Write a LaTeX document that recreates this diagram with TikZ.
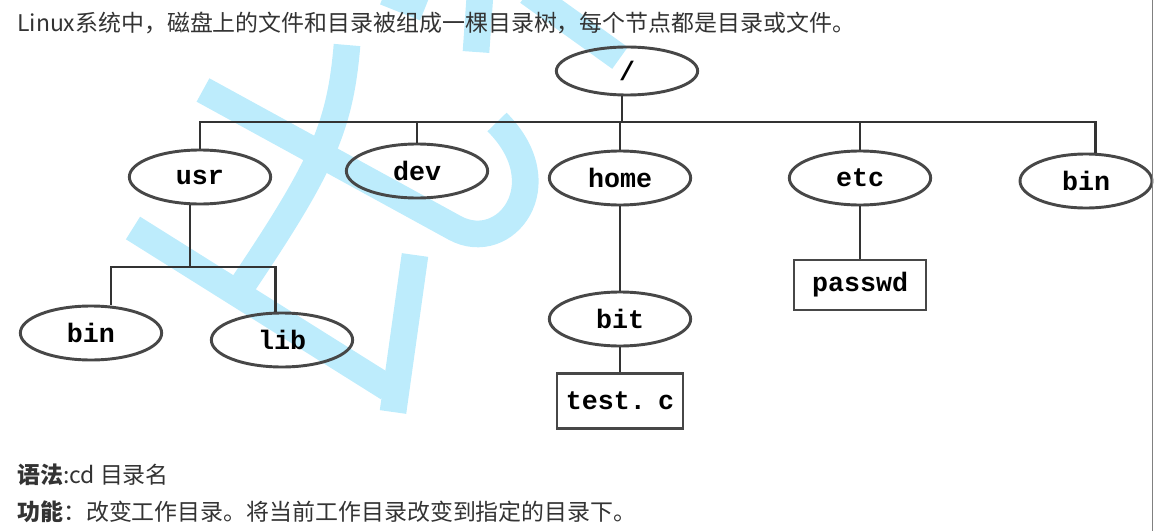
\documentclass[tikz,border=0pt]{standalone}
\usepackage{fontspec}
\newfontfamily\cjk{Noto Sans CJK SC}
\newfontfamily\treefont{Liberation Mono}
\usetikzlibrary{shapes.geometric}
\definecolor{wmblue}{RGB}{189,236,252}
\definecolor{ink}{RGB}{51,51,51}

\begin{document}
\begin{tikzpicture}[x=0.75pt, y=-0.75pt]
  \tikzset{dirnode/.style = {ellipse, draw=black!72, line width=2.2pt, minimum width=106pt, minimum height=40.5pt, inner sep=0pt, font=\treefont\bfseries\fontsize{20}{24}\selectfont}}
  \tikzset{filenode/.style = {rectangle, draw=black!72, line width=2.2pt, inner sep=0pt, font=\treefont\bfseries\fontsize{20}{24}\selectfont}}
  \tikzset{bar/.style = {draw=black!80, line width=2pt}}
  \tikzset{wm/.style = {draw=wmblue, line width=20pt}}
  \tikzset{txt/.style = {anchor=base west, inner sep=0pt, text=ink, font=\cjk\fontsize{17.2}{20}\selectfont}}

  \useasboundingbox (0,0) rectangle (1155,531);

  % watermark
  \draw[wm] (203,90) -- (455,228) .. controls (505,255) and (560,185) .. (497,122);
  \draw[wm] (347,45) .. controls (340,130) and (320,170) .. (238,292);
  \draw[wm] (415,255) -- (393,412);
  \draw[wm] (133,228) -- (388,388);
  \draw[wm] (480,-5) -- (476,52);
  \draw[wm] (385,-8) -- (425,8);
  \draw[wm] (528,-8) -- (620,58);

  % texts
  \node[txt] (intro) at (17,32) {Linux系统中，磁盘上的文件和目录被组成一棵目录树，每个节点都是目录或文件。};
  \node[txt] (syntax) at (17,483) {\textbf{语法}:cd 目录名};
  \node[txt] (usage) at (17,520) {\textbf{功能}：改变工作目录。将当前工作目录改变到指定的目录下。};

  % tree
  \node[dirnode, minimum height=36pt] (root) at (627,71) {/};
  \node[dirnode] (usr) at (200,177) {usr};
  \node[dirnode] (dev) at (417,171) {dev};
  \node[dirnode] (home) at (620,178) {home};
  \node[dirnode] (etc) at (860,178) {etc};
  \node[dirnode, minimum width=99pt] (bin) at (1086,181) {bin};
  \node[dirnode] (ubin) at (91,333) {bin};
  \node[dirnode] (lib) at (282,340) {lib};
  \node[dirnode] (bit) at (620,319) {bit};
  \node[filenode, minimum width=99pt, minimum height=37.5pt] (passwd) at (860,285) {passwd};
  \node[filenode, minimum width=94.5pt, minimum height=41pt] (testc) at (620,401) {test.\hspace{-0.35em} c};

  \coordinate (bus) at (622,122);
  \coordinate (ubus) at (190,267);

  \draw[bar] (bus |- root.south) -- (bus);
  \draw[bar] (usr.north) |- (bus) -| ([xshift=7pt]bin.north);
  \draw[bar] (dev.north) -- (dev.north |- bus);
  \draw[bar] (home.north) -- (home.north |- bus);
  \draw[bar] (etc.north) -- (etc.north |- bus);
  \draw[bar] (ubus |- usr.south) -- (ubus);
  \draw[bar] ([xshift=15pt]ubin.north) |- (ubus) -| ([xshift=-5pt]lib.north);
  \draw[bar] (home) -- (bit);
  \draw[bar] (bit) -- (testc);
  \draw[bar] (etc) -- (passwd);

  % page edge
  \draw[black!50, line width=1pt] (1152.5,0) -- (1152.5,531);
\end{tikzpicture}
\end{document}
